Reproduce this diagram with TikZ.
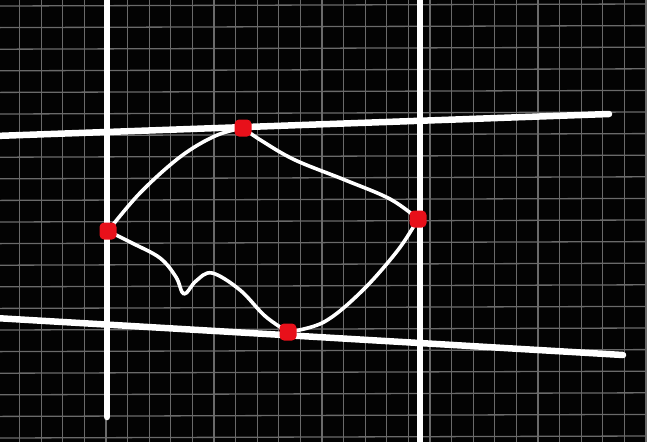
\documentclass[tikz,border=0pt]{standalone}
\usepackage{xcolor}
\usepackage{tikz}
\usetikzlibrary{positioning}
\definecolor{zemin}{HTML}{030303}
\definecolor{izgara}{HTML}{6A6A6A}
\definecolor{noktaKirmizi}{HTML}{E8101A}

\begin{document}
\begin{tikzpicture}[x=1pt,y=-1pt,
  izgaraCizgi/.style={izgara,line width=1.3pt},
  anaCizgi/.style={white,line width=6.5pt,line cap=round},
  egri/.style={white,line width=3.6pt,line cap=round,line join=round},
  nokta/.style={fill=noktaKirmizi,draw=none,rounded corners=4.5pt,minimum size=17pt,inner sep=0pt}]
\useasboundingbox (0,0) rectangle (647,442);
\fill[zemin] (0,0) rectangle (647,442);
% izgara
\foreach \x in {0,...,30} \draw[izgaraCizgi] (-2+21.6*\x,0)--(-2+21.6*\x,442);
\foreach \y in {0,...,20} \draw[izgaraCizgi] (0,6+21.6*\y)--(647,4+21.6*\y);
% ana cizgiler
\draw[anaCizgi] (107,-5)--(107,417);
\draw[anaCizgi] (420,-5)--(420,447);
\draw[anaCizgi] (-5,136)--(609,114);
\draw[anaCizgi] (-5,318)--(623,355);
% noktalar
\coordinate (pUst) at (243,128);
\coordinate (pSag) at (418,219);
\coordinate (pAlt) at (288,332);
\coordinate (pSol) at (108,231);
\draw[egri] plot[smooth,tension=0.6] coordinates {(pUst) (262,141) (295,160) (345,180) (390,199) (pSag)};
\draw[egri] plot[smooth,tension=0.6] coordinates {(pSag) (398,250) (362,291) (324,322) (pAlt)};
\draw[egri] plot[smooth,tension=0.6] coordinates {(pAlt) (265,316) (240,290) (212,273) (196,281) (184,294) (176,277) (160,258) (132,243) (pSol)};
\draw[egri] plot[smooth,tension=0.6] coordinates {(pSol) (140,193) (180,157) (215,136) (pUst)};
\node[nokta] (ust) at (pUst) {};
\node[nokta] (sag) at (pSag) {};
\node[nokta] (alt) at (pAlt) {};
\node[nokta] (sol) at (pSol) {};
\end{tikzpicture}
\end{document}
